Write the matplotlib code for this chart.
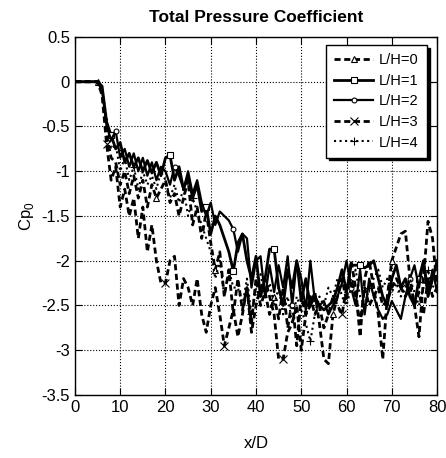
import numpy as np
import matplotlib
matplotlib.use("Agg")
import matplotlib.pyplot as plt

plt.rcParams['font.family'] = ['Liberation Sans', 'DejaVu Sans']

# x/D stations
x_d = list(range(0, 81))

# total pressure coefficient for each L/H
cp_lh0 = [0, 0, 0, 0, 0, 0, -0.1, -0.6, -0.85, -0.9, -1.15, -1.0, -1.25, -1.05, -1.3, -1.1, -1.4, -1.15, -1.3, -1.2,
          -1.1, -1.35, -1.25, -1.5, -1.3, -1.1, -1.6, -1.4, -1.75, -1.45, -1.8, -2.1, -1.9, -2.4, -2.1, -2.6, -2.2, -2.55,
          -2.3, -2.7, -2.2, -2.5, -2.35, -2.6, -2.4, -2.65, -2.3, -2.75, -2.45, -2.95, -2.4, -2.6, -2.5, -2.35, -2.7,
          -3.1, -3.15, -2.6, -2.4, -2.2, -2.45, -2.0, -2.3, -2.85, -2.2, -2.0, -2.3, -2.6, -3.1, -2.4, -2.0, -1.85,
          -1.7, -1.67, -2.2, -2.5, -2.85, -2.2, -1.56, -1.75, -2.3]
cp_lh1 = [0, 0, 0, 0, 0, 0, -0.05, -0.45, -0.6, -0.75, -0.68, -0.9, -0.8, -0.95, -0.85, -1.0, -0.88, -1.02, -0.9, -1.05,
          -0.85, -0.82, -1.1, -0.95, -1.2, -1.05, -1.3, -1.15, -1.45, -1.4, -1.7, -1.5, -1.6, -1.75, -1.9, -2.12, -1.8,
          -1.7, -2.0, -2.2, -1.95, -2.4, -2.2, -1.87, -1.87, -2.3, -2.5, -2.1, -2.3, -2.0, -2.45, -2.2, -2.5, -2.4,
          -2.5, -2.55, -2.5, -2.45, -2.3, -2.1, -2.35, -2.05, -2.05, -2.05, -2.08, -2.05, -2.0, -2.2, -2.4, -2.5, -2.2,
          -2.05, -2.3, -2.2, -2.4, -2.5, -2.2, -2.0, -2.4, -2.2, -2.0]
cp_lh2 = [0, 0, 0, 0, 0, 0, -0.1, -0.5, -0.65, -0.55, -0.85, -0.75, -0.95, -0.8, -1.0, -0.85, -1.05, -0.9, -1.1, -0.95,
          -1.0, -1.15, -0.95, -1.05, -1.2, -1.0, -1.25, -1.1, -1.35, -1.5, -1.35, -1.6, -1.45, -1.5, -1.55, -1.65, -1.9,
          -1.7, -1.75, -2.3, -2.0, -1.95, -2.4, -2.05, -2.35, -2.05, -2.3, -1.95, -2.5, -2.0, -2.2, -2.55, -2.0, -2.45,
          -2.5, -2.45, -2.6, -2.5, -2.4, -2.25, -2.0, -2.3, -2.5, -2.1, -2.6, -2.2, -2.4, -2.55, -2.65, -2.6, -2.45,
          -2.55, -2.65, -2.4, -2.2, -2.05, -2.3, -2.0, -2.35, -2.1, -2.35]
cp_lh3 = [0, 0, 0, 0, 0, 0, -0.15, -0.7, -1.1, -0.95, -1.4, -1.2, -1.5, -1.3, -1.75, -1.4, -1.9, -1.6, -2.0, -2.25,
          -2.25, -2.0, -1.95, -2.5, -2.2, -2.3, -2.5, -2.2, -2.6, -2.8, -2.5, -2.3, -2.6, -2.95, -2.75, -2.55, -2.85,
          -2.6, -2.3, -2.8, -2.5, -2.3, -2.2, -2.4, -2.6, -3.1, -3.1, -2.8, -2.7, -2.5, -3.0, -2.6, -2.4, -2.6, -2.5,
          -2.75, -2.6, -2.4, -2.5, -2.6, -2.3, -2.2, -2.4, -2.7, -2.3, -2.5, -2.4, -2.3, -2.5, -2.45, -2.3, -2.2, -2.3,
          -2.4, -2.3, -2.5, -2.35, -2.6, -2.2, -2.4, -2.3]
cp_lh4 = [0, 0, 0, 0, 0, 0, -0.1, -0.4, -0.75, -0.7, -1.0, -0.85, -1.1, -0.95, -1.2, -1.0, -1.15, -1.05, -1.2, -1.0,
          -1.1, -1.3, -1.15, -1.35, -1.2, -1.5, -1.3, -1.45, -1.6, -1.75, -1.9, -2.2, -2.0, -2.4, -2.1, -2.3, -2.3,
          -2.5, -2.2, -2.6, -2.3, -2.15, -2.4, -2.25, -2.5, -2.3, -2.6, -2.4, -2.7, -2.4, -2.55, -2.7, -2.9, -2.6,
          -2.4, -2.5, -2.3, -2.4, -2.2, -2.4, -2.5, -2.3, -2.1, -2.4, -2.5, -2.3, -2.2, -2.1, -2.3, -2.2, -2.35, -2.25,
          -2.4, -2.3, -2.2, -2.35, -2.5, -2.3, -2.1, -2.3, -2.2]

fig = plt.figure(figsize=(4.46, 4.58), dpi=100)
ax = fig.add_axes([0.168, 0.1376, 0.812, 0.7816])

short_dash = (2.2, 1.3)
ax.plot(x_d, cp_lh0, color='black', ls='--', dashes=short_dash, lw=2, marker='^', ms=4, mfc='white', mew=0.8,
        markevery=(5, 13), label='L/H=0')
ax.plot(x_d, cp_lh1, color='black', ls='-', lw=2, marker='s', ms=5, mfc='white', mew=0.8,
        markevery=[8, 21, 29, 35, 44, 63, 76], label='L/H=1')
ax.plot(x_d, cp_lh2, color='black', ls='-', lw=1.6, marker='o', ms=3.5, mfc='white', mew=0.8,
        markevery=(9, 13), label='L/H=2')
ax.plot(x_d, cp_lh3, color='black', ls='--', dashes=short_dash, lw=2, marker='x', ms=6, mew=0.8,
        markevery=(7, 13), label='L/H=3')
ax.plot(x_d, cp_lh4, color='black', ls=':', lw=1.5, marker='+', ms=6, mew=0.8,
        markevery=(13, 13), label='L/H=4')

ax.set_xlim(0, 80)
ax.set_ylim(-3.5, 0.5)
ax.set_xticks(np.arange(0, 81, 10))
ax.set_yticks(np.arange(-3.5, 0.51, 0.5))
ax.set_yticklabels(['-3.5', '-3', '-2.5', '-2', '-1.5', '-1', '-0.5', '0', '0.5'])
ax.tick_params(direction='in', top=True, right=True, labelsize=12, length=5)
ax.grid(True, color='black', ls=':', lw=0.8)
for s in ax.spines.values():
    s.set_linewidth(1.0)

ax.set_title('Total Pressure Coefficient', fontsize=12.5, fontweight='bold', pad=11)
ax.set_xlabel('x/D', fontsize=12, labelpad=15)
ax.set_ylabel(r'Cp$_\mathregular{0}$', fontsize=12, labelpad=4)

leg = ax.legend(loc='upper right', fontsize=10.5, fancybox=False, framealpha=1, edgecolor='black',
                handlelength=2.7, handletextpad=0.4, borderpad=0.55, labelspacing=0.45,
                borderaxespad=0.0, bbox_to_anchor=(0.972, 0.977),
                shadow={'ox': 2, 'oy': -2, 'facecolor': 'black', 'edgecolor': 'black', 'alpha': 1})
leg.get_frame().set_linewidth(1.0)

plt.savefig('out.png', dpi=100)
